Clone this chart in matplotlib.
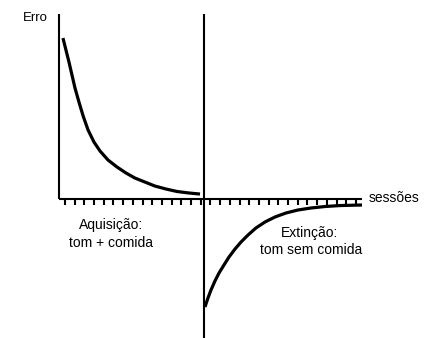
import matplotlib
matplotlib.use("Agg")
import matplotlib.pyplot as plt

plt.rcParams['font.family'] = ['Liberation Sans', 'DejaVu Sans']

# Acquisition (tone + food): error falls towards zero
acq_sessions = [0.79, 1.10, 1.41, 1.72, 2.03, 2.44, 2.87, 3.38, 3.99, 4.61, 5.43, 6.36,
                7.29, 8.21, 9.24, 10.27, 11.41, 12.54, 13.78, 14.92]
acq_error = [10.06, 9.31, 8.56, 7.75, 6.94, 6.06, 5.19, 4.31, 3.56, 3.0, 2.44, 2.0,
             1.625, 1.31, 1.06, 0.81, 0.625, 0.47, 0.375, 0.31]

# Extinction (tone without food): curve rises back towards zero
ext_sessions = [15.43, 15.74, 16.05, 16.46, 16.88, 17.39, 17.91, 18.53, 19.15, 19.87,
                20.69, 21.62, 22.65, 23.78, 25.02, 26.36, 27.80, 29.35, 31.62]
ext_error = [-6.75, -6.19, -5.69, -5.125, -4.625, -4.125, -3.625, -3.125, -2.6875, -2.25,
             -1.81, -1.4375, -1.125, -0.875, -0.6875, -0.5625, -0.47, -0.41, -0.375]

tick_sessions = list(range(1, 32))
y_axis_x = 0.38
phase_split = 15.33
axis_end = 31.62
axis_top = 11.56
tick_len = 0.375

fig = plt.figure(figsize=(4.33, 3.38), dpi=100)
ax = fig.add_axes([0, 0, 1, 1])
ax.set_xlim(-5.70, 38.94)
ax.set_ylim(-8.6875, 12.4375)
ax.axis('off')

axis_kw = dict(color='black', linewidth=1.5, solid_capstyle='butt')
ax.plot([y_axis_x, y_axis_x], [0, axis_top], **axis_kw)
ax.plot([y_axis_x, axis_end], [0, 0], **axis_kw)
ax.plot([phase_split, phase_split], [axis_top, -8.6875], **axis_kw)
ax.vlines(tick_sessions, -tick_len, 0, color='black', linewidth=1.5)

curve_kw = dict(color='black', linewidth=2.3, solid_capstyle='butt', solid_joinstyle='round')
ax.plot(acq_sessions, acq_error, **curve_kw)
ax.plot(ext_sessions, ext_error, **curve_kw)

ax.text(-3.33, 11.34, 'Erro', fontsize=9.5, ha='left', va='center')
ax.text(32.3, 0.05, 'sessões', fontsize=10, ha='left', va='center')
ax.text(5.75, -1.65, 'Aquisição:', fontsize=10, ha='center', va='center')
ax.text(5.75, -2.75, 'tom + comida', fontsize=10, ha='center', va='center')
ax.text(26.2, -2.1, 'Extinção:', fontsize=10, ha='center', va='center')
ax.text(26.4, -3.2, 'tom sem comida', fontsize=10, ha='center', va='center')

fig.savefig('out.png', dpi=100)
